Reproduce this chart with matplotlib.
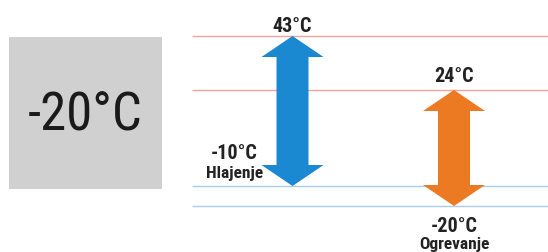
import numpy as np
import matplotlib
matplotlib.use("Agg")
import matplotlib.pyplot as plt
from matplotlib.patches import Polygon
from matplotlib import font_manager

# ---- data ----
modes = ["Hlajenje", "Ogrevanje"]
t_max = [43, 24]
t_min = [-10, -20]
outdoor_label = "-20°C"
arrow_colors = ["#1b88d2", "#ec7a23"]
max_line_color = "#f3a19a"
min_line_color = "#a9cdea"

# pick a condensed family if one is installed
_names = {f.name for f in font_manager.fontManager.ttflist}
_cands = ["Roboto Condensed", "Liberation Sans Narrow", "DejaVu Sans Condensed",
          "Open Sans Condensed", "Noto Sans Condensed", "Roboto"]
_narrow = next((c for c in _cands if c in _names), "DejaVu Sans")
FONT = [_narrow, "DejaVu Sans"]
IS_CONDENSED = _narrow != "Roboto" and _narrow != "DejaVu Sans"
SCALE = 1.0 if IS_CONDENSED else 0.86

W, H = 548, 253
fig = plt.figure(figsize=(W / 100, H / 100), dpi=100)
fig.patch.set_facecolor("white")

# piecewise scale for the temperature axis (infographic spacing)
knots_t = np.array([-100, -20, -10, 24, 43, 100], dtype=float)
knots_p = np.array([-114, 46, 66, 162, 216, 378], dtype=float)

def fwd(t):
    return np.interp(t, knots_t, knots_p)

def inv(p):
    return np.interp(p, knots_p, knots_t)

ax = fig.add_axes([0, 0, 1, 1])
ax.set_yscale("function", functions=(fwd, inv))
ax.set_xlim(0, W)
ax.set_ylim(inv(0), inv(H))
ax.axis("off")

# horizontal reference lines
ax.hlines(t_max, 192, W, colors=max_line_color, lw=1.0, zorder=1)
ax.hlines(t_min, 192, W, colors=min_line_color, lw=1.0, zorder=1)

centers = [292.5, 454]
hl, hw, sw = 21, 31, 16
for cx, tmax, tmin, col in zip(centers, t_max, t_min, arrow_colors):
    X, Yt = ax.transData.transform((cx, tmax))
    _, Yb = ax.transData.transform((cx, tmin))
    pts = np.array([
        (X, Yt), (X + hw, Yt - hl), (X + sw, Yt - hl), (X + sw, Yb + hl),
        (X + hw, Yb + hl), (X, Yb), (X - hw, Yb + hl), (X - sw, Yb + hl),
        (X - sw, Yt - hl), (X - hw, Yt - hl)])
    data_pts = ax.transData.inverted().transform(pts)
    ax.add_patch(Polygon(data_pts, closed=True, facecolor=col, edgecolor="none", zorder=3))

# labels
lab_kw = dict(family=FONT, fontweight="bold", color="#222222", ha="center",
              textcoords="offset pixels", annotation_clip=False, va="baseline")
big = 14.5 * SCALE
small = 12.5 * SCALE
# cooling
ax.annotate(f"{t_max[0]}°C", (centers[0], t_max[0]), xytext=(0, 5), fontsize=big, **lab_kw)
ax.annotate(f"{t_min[0]}°C", (centers[0], t_min[0]), xytext=(-58, 28), fontsize=big, **lab_kw)
ax.annotate(modes[0], (centers[0], t_min[0]), xytext=(-58, 9), fontsize=small, **lab_kw)
# heating
ax.annotate(f"{t_max[1]}°C", (centers[1], t_max[1]), xytext=(0, 9), fontsize=big, **lab_kw)
ax.annotate(f"{t_min[1]}°C", (centers[1], t_min[1]), xytext=(0, -25), fontsize=big, **lab_kw)
ax.annotate(modes[1], (centers[1], t_min[1]), xytext=(0, -42), fontsize=small, **lab_kw)

# grey outdoor temperature box
bx = fig.add_axes([9 / W, (H - 190) / H, 153 / W, 152 / H])
bx.set_facecolor("#d0d0d0")
bx.set_xticks([]); bx.set_yticks([])
for s in bx.spines.values():
    s.set_visible(False)
bx.text(0.5, 0.52, outdoor_label, family=FONT, fontsize=38 * (1.0 if IS_CONDENSED else 0.82),
        color="#1a1a1a", ha="center", va="center_baseline", transform=bx.transAxes)

fig.savefig("out.png", dpi=100, facecolor="white")
